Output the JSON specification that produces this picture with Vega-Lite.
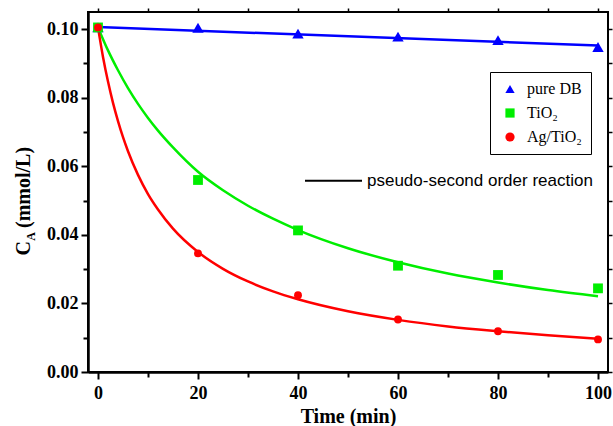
{
  "$schema": "https://vega.github.io/schema/vega-lite/v6.json",
  "width": 520,
  "height": 360,
  "autosize": {"type": "none"},
  "padding": {"left": 88, "top": 12, "right": 5, "bottom": 54},
  "background": "white",
  "config": {
    "view": {"stroke": "black", "strokeWidth": 2},
    "axis": {"grid": false, "domainColor": "black", "tickColor": "black", "labelColor": "black", "titleColor": "black"},
    "legend": {
      "orient": "none", "legendX": 402, "legendY": 60,
      "strokeColor": "black", "fillColor": "white", "padding": 9,
      "labelFont": "Liberation Serif", "labelFontSize": 16, "labelColor": "black", "labelOffset": 9,
      "rowPadding": 8, "symbolSize": 85, "symbolOffset": 3, "symbolStrokeWidth": 0
    }
  },
  "datasets": {
    "pts": [
      {"series": "pure DB", "t": 0, "c": 0.1005},
      {"series": "pure DB", "t": 20, "c": 0.1004},
      {"series": "pure DB", "t": 40, "c": 0.0987},
      {"series": "pure DB", "t": 60, "c": 0.0978},
      {"series": "pure DB", "t": 80, "c": 0.0968},
      {"series": "pure DB", "t": 100, "c": 0.0948},
      {"series": "TiO₂", "t": 0, "c": 0.1005},
      {"series": "TiO₂", "t": 20, "c": 0.0560},
      {"series": "TiO₂", "t": 40, "c": 0.0413},
      {"series": "TiO₂", "t": 60, "c": 0.0310},
      {"series": "TiO₂", "t": 80, "c": 0.0283},
      {"series": "TiO₂", "t": 100, "c": 0.0244},
      {"series": "Ag/TiO₂", "t": 0, "c": 0.1005},
      {"series": "Ag/TiO₂", "t": 20, "c": 0.0346},
      {"series": "Ag/TiO₂", "t": 40, "c": 0.0224},
      {"series": "Ag/TiO₂", "t": 60, "c": 0.0153},
      {"series": "Ag/TiO₂", "t": 80, "c": 0.0119},
      {"series": "Ag/TiO₂", "t": 100, "c": 0.0095}
    ],
    "curves": [
      {"series": "pure DB", "t": 0, "c": 0.1006},
      {"series": "pure DB", "t": 100, "c": 0.0952},
      {"series": "TiO₂", "t": 0, "c": 0.1005},
      {"series": "TiO₂", "t": 2, "c": 0.0938},
      {"series": "TiO₂", "t": 4, "c": 0.0880},
      {"series": "TiO₂", "t": 6, "c": 0.0828},
      {"series": "TiO₂", "t": 8, "c": 0.0782},
      {"series": "TiO₂", "t": 10, "c": 0.0741},
      {"series": "TiO₂", "t": 12, "c": 0.0704},
      {"series": "TiO₂", "t": 15, "c": 0.0655},
      {"series": "TiO₂", "t": 20, "c": 0.0584},
      {"series": "TiO₂", "t": 25, "c": 0.0530},
      {"series": "TiO₂", "t": 30, "c": 0.0485},
      {"series": "TiO₂", "t": 35, "c": 0.0447},
      {"series": "TiO₂", "t": 40, "c": 0.0414},
      {"series": "TiO₂", "t": 50, "c": 0.0361},
      {"series": "TiO₂", "t": 60, "c": 0.0320},
      {"series": "TiO₂", "t": 70, "c": 0.0287},
      {"series": "TiO₂", "t": 80, "c": 0.0261},
      {"series": "TiO₂", "t": 90, "c": 0.0239},
      {"series": "TiO₂", "t": 100, "c": 0.0221},
      {"series": "Ag/TiO₂", "t": 0, "c": 0.1005},
      {"series": "Ag/TiO₂", "t": 1, "c": 0.0919},
      {"series": "Ag/TiO₂", "t": 2, "c": 0.0847},
      {"series": "Ag/TiO₂", "t": 3, "c": 0.0785},
      {"series": "Ag/TiO₂", "t": 4, "c": 0.0732},
      {"series": "Ag/TiO₂", "t": 5, "c": 0.0685},
      {"series": "Ag/TiO₂", "t": 6, "c": 0.0644},
      {"series": "Ag/TiO₂", "t": 8, "c": 0.0575},
      {"series": "Ag/TiO₂", "t": 10, "c": 0.0519},
      {"series": "Ag/TiO₂", "t": 12, "c": 0.0474},
      {"series": "Ag/TiO₂", "t": 15, "c": 0.0418},
      {"series": "Ag/TiO₂", "t": 20, "c": 0.0350},
      {"series": "Ag/TiO₂", "t": 25, "c": 0.0301},
      {"series": "Ag/TiO₂", "t": 30, "c": 0.0264},
      {"series": "Ag/TiO₂", "t": 35, "c": 0.0235},
      {"series": "Ag/TiO₂", "t": 40, "c": 0.0212},
      {"series": "Ag/TiO₂", "t": 50, "c": 0.0177},
      {"series": "Ag/TiO₂", "t": 60, "c": 0.0152},
      {"series": "Ag/TiO₂", "t": 70, "c": 0.0133},
      {"series": "Ag/TiO₂", "t": 80, "c": 0.0119},
      {"series": "Ag/TiO₂", "t": 90, "c": 0.0107},
      {"series": "Ag/TiO₂", "t": 100, "c": 0.0097}
    ],
    "note": [{"x1": 41.4, "x2": 52.8, "y": 0.0558, "tx": 53.8, "label": "pseudo-second order reaction"}],
    "ytitle": [
      {"part": "C", "x": -13.6, "y": 0.0340, "size": 20},
      {"part": "A", "x": -12.6, "y": 0.0383, "size": 12},
      {"part": "(mmol/L)", "x": -13.6, "y": 0.0420, "size": 20}
    ]
  },
  "layer": [
    {
      "data": {"name": "curves"},
      "mark": {"type": "line", "interpolate": "monotone", "strokeWidth": 2.5},
      "encoding": {
        "x": {
          "field": "t", "type": "quantitative",
          "scale": {"domain": [-2, 102], "nice": false, "zero": false},
          "axis": {
            "orient": "bottom", "values": [0, 20, 40, 60, 80, 100], "format": "d",
            "title": "Time (min)", "titleFont": "Liberation Serif", "titleFontWeight": "bold", "titleFontSize": 20, "titlePadding": 4,
            "labelFont": "Liberation Serif", "labelFontWeight": "bold", "labelFontSize": 18, "labelPadding": 5,
            "tickSize": 7, "tickWidth": 2, "domain": true, "domainWidth": 2.5
          }
        },
        "y": {
          "field": "c", "type": "quantitative",
          "scale": {"domain": [0, 0.105], "nice": false, "zero": false},
          "axis": {
            "orient": "left", "values": [0, 0.02, 0.04, 0.06, 0.08, 0.1], "format": ".2f", "title": null,
            "labelFont": "Liberation Serif", "labelFontWeight": "bold", "labelFontSize": 18, "labelPadding": 3,
            "tickSize": 7, "tickWidth": 2, "domain": true, "domainWidth": 2.5
          }
        },
        "stroke": {
          "field": "series", "type": "nominal",
          "scale": {"domain": ["Ag/TiO₂", "TiO₂", "pure DB"], "range": ["#ff0000", "#00ee00", "#0000ff"]},
          "legend": null
        }
      }
    },
    {
      "data": {"name": "pts"},
      "mark": {"type": "point", "filled": true, "opacity": 1},
      "encoding": {
        "x": {
          "field": "t", "type": "quantitative",
          "axis": {"orient": "bottom", "values": [10, 30, 50, 70, 90], "labels": false, "title": null, "domain": false, "tickSize": 5, "tickWidth": 2}
        },
        "y": {
          "field": "c", "type": "quantitative",
          "axis": {"orient": "left", "values": [0.01, 0.03, 0.05, 0.07, 0.09], "labels": false, "title": null, "domain": false, "tickSize": 5, "tickWidth": 2}
        },
        "color": {
          "field": "series", "type": "nominal",
          "scale": {"domain": ["pure DB", "TiO₂", "Ag/TiO₂"], "range": ["#0000ff", "#00ee00", "#ff0000"]},
          "legend": {"title": null}
        },
        "shape": {
          "field": "series", "type": "nominal",
          "scale": {"domain": ["pure DB", "TiO₂", "Ag/TiO₂"], "range": ["triangle-up", "square", "circle"]},
          "legend": {"title": null}
        },
        "size": {
          "field": "series", "type": "ordinal",
          "scale": {"domain": ["pure DB", "TiO₂", "Ag/TiO₂"], "range": [130, 62, 66]},
          "legend": null
        }
      }
    },
    {
      "data": {"name": "note"},
      "mark": {"type": "rule", "strokeWidth": 2, "color": "black"},
      "encoding": {
        "x": {
          "field": "x1", "type": "quantitative",
          "axis": {"orient": "top", "values": [0, 10, 20, 30, 40, 50, 60, 70, 80, 90, 100], "labels": false, "title": null, "domain": false, "tickSize": 4, "tickWidth": 1.5}
        },
        "x2": {"field": "x2"},
        "y": {
          "field": "y", "type": "quantitative",
          "axis": {"orient": "right", "values": [0, 0.01, 0.02, 0.03, 0.04, 0.05, 0.06, 0.07, 0.08, 0.09, 0.1], "labels": false, "title": null, "domain": false, "tickSize": 4, "tickWidth": 1.5}
        }
      }
    },
    {
      "data": {"name": "note"},
      "mark": {"type": "text", "align": "left", "baseline": "middle", "font": "Liberation Sans", "fontSize": 17, "color": "black"},
      "encoding": {
        "x": {"field": "tx", "type": "quantitative", "axis": null},
        "y": {"field": "y", "type": "quantitative", "axis": null},
        "text": {"field": "label"}
      }
    },
    {
      "data": {"name": "ytitle"},
      "mark": {"type": "text", "align": "left", "baseline": "alphabetic", "angle": 270, "font": "Liberation Serif", "fontWeight": "bold", "color": "black"},
      "encoding": {
        "x": {"field": "x", "type": "quantitative", "axis": null},
        "y": {"field": "y", "type": "quantitative", "axis": null},
        "text": {"field": "part"},
        "size": {"field": "size", "type": "quantitative", "scale": null}
      }
    }
  ],
  "resolve": {"axis": {"x": "independent", "y": "independent"}, "scale": {"size": "independent"}}
}
